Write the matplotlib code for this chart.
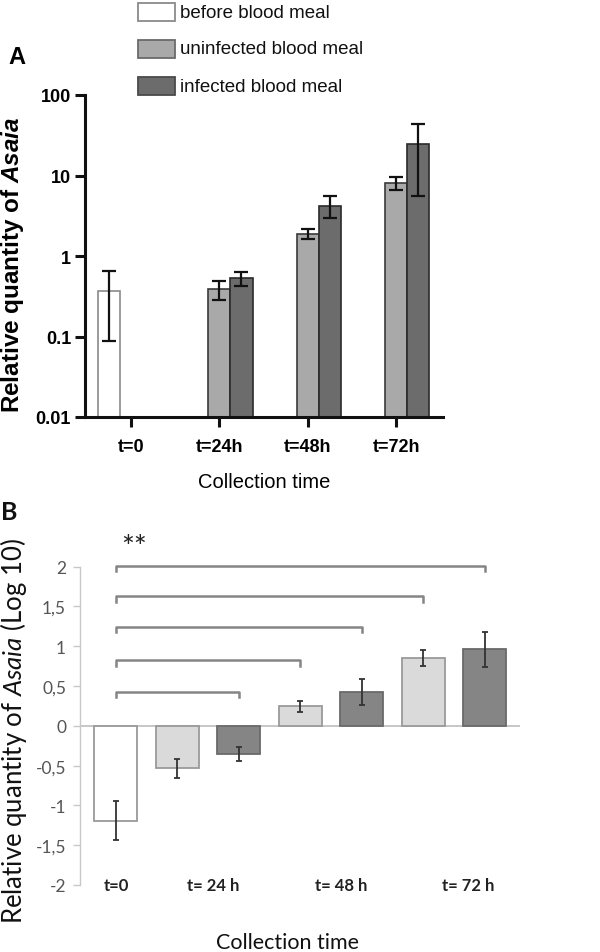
import numpy as np
import matplotlib
matplotlib.use("Agg")
import matplotlib.pyplot as plt
from matplotlib.patches import Rectangle

plt.rcParams['mathtext.fontset'] = 'custom'
plt.rcParams['mathtext.it'] = 'Lato:italic'
plt.rcParams['mathtext.bfit'] = 'Liberation Sans:italic:bold'

NARROW = ['Liberation Sans', 'DejaVu Sans']
CAL = ['Lato', 'DejaVu Sans']

# ---------------- data: panel A ----------------
groups_a = ['t=0', 't=24h', 't=48h', 't=72h']
series_a = ['before blood meal', 'uninfected blood meal', 'infected blood meal']
before_val = [0.367, np.nan, np.nan, np.nan]
before_hi = [0.656, np.nan, np.nan, np.nan]
before_lo = [0.087, np.nan, np.nan, np.nan]
uninf_val = [np.nan, 0.389, 1.876, 8.07]
uninf_hi = [np.nan, 0.49, 2.18, 9.66]
uninf_lo = [np.nan, 0.286, 1.63, 6.6]
inf_val = [np.nan, 0.533, 4.22, 24.4]
inf_hi = [np.nan, 0.638, 5.61, 43.6]
inf_lo = [np.nan, 0.428, 2.97, 5.6]
yticks_a = [0.01, 0.1, 1, 10, 100]
yticklabels_a = ['0.01', '0.1', '1', '10', '100']

# ---------------- data: panel B ----------------
groups_b = ['t=0', 't= 24 h', 't= 48 h', 't= 72 h']
vals_b = [-1.19, -0.535, -0.355, 0.244, 0.427, 0.847, 0.96]
errs_b = [0.25, 0.12, 0.09, 0.07, 0.165, 0.1, 0.225]
kinds_b = ['before', 'uninf', 'inf', 'uninf', 'inf', 'uninf', 'inf']
bracket_end = [2, 3, 4, 5, 6]
bracket_y = [0.43, 0.825, 1.245, 1.63, 2.01]
yticks_b = [-2, -1.5, -1, -0.5, 0, 0.5, 1, 1.5, 2]
yticklabels_b = ['-2', '-1,5', '-1', '-0,5', '0', '0,5', '1', '1,5', '2']

W, H = 600, 953
fig = plt.figure(figsize=(W / 100, H / 100), dpi=100)

# ================= Panel A =================
axA = fig.add_axes([85 / W, 1 - 418 / H, 358 / W, 322 / H])
axA.set_yscale('log')
x = np.arange(len(groups_a))
bw = 0.25
colA = {'before': 'white', 'uninf': '#a9a9a9', 'inf': '#6c6c6c'}
ek = dict(ecolor='#111111', elinewidth=1.6, capsize=5.2, capthick=1.6)

def errs(v, lo, hi):
    v, lo, hi = map(np.array, (v, lo, hi))
    return np.vstack([v - lo, hi - v])

axA.bar(x - bw, before_val, bw, color=colA['before'], edgecolor='#8a8a8a', linewidth=1.2,
        yerr=errs(before_val, before_lo, before_hi), error_kw=ek, zorder=2)
axA.bar(x, uninf_val, bw, color=colA['uninf'], edgecolor='#3a3a3a', linewidth=1.2,
        yerr=errs(uninf_val, uninf_lo, uninf_hi), error_kw=ek, zorder=2)
axA.bar(x + bw, inf_val, bw, color=colA['inf'], edgecolor='#2a2a2a', linewidth=1.2,
        yerr=errs(inf_val, inf_lo, inf_hi), error_kw=ek, zorder=2)

axA.set_ylim(0.01, 100)
axA.set_xlim(-0.52, 3.53)
axA.set_yticks(yticks_a)
axA.set_yticklabels(yticklabels_a)
axA.yaxis.set_minor_locator(matplotlib.ticker.NullLocator())
axA.set_xticks(x)
axA.set_xticklabels(groups_a)
for s in ['top', 'right']:
    axA.spines[s].set_visible(False)
for s in ['left', 'bottom']:
    axA.spines[s].set_linewidth(2.2)
    axA.spines[s].set_color('#111111')
axA.tick_params(axis='both', width=2.2, length=7, color='#111111', pad=3)
for lab in axA.get_yticklabels() + axA.get_xticklabels():
    lab.set_fontfamily(NARROW)
    lab.set_fontweight('bold')
    lab.set_fontsize(13)
axA.tick_params(axis='x', pad=8)
axA.set_xlabel('Collection time', fontfamily=NARROW, fontsize=14.5, labelpad=12)
fig.text(13 / W, 1 - 265 / H, r'Relative quantity of $\mathbfit{Asaia}$', rotation=90,
         ha='center', va='center', fontfamily=NARROW, fontweight='bold', fontsize=17.5)
fig.text(17 / W, 1 - 57 / H, 'A', ha='center', va='center', fontfamily=NARROW,
         fontweight='bold', fontsize=17)

# legend A (drawn manually)
leg_y = [13, 50, 87]
leg_fc = [colA['before'], colA['uninf'], colA['inf']]
leg_ec = ['#8a8a8a', '#6a6a6a', '#4a4a4a']
for ly, lab, fc, ec in zip(leg_y, series_a, leg_fc, leg_ec):
    fig.patches.append(Rectangle((138 / W, 1 - (ly + 9) / H), 37 / W, 18 / H,
                                 transform=fig.transFigure, facecolor=fc, edgecolor=ec,
                                 linewidth=1.3))
    fig.text(180 / W, 1 - ly / H, lab, ha='left', va='center', fontfamily=NARROW,
             fontsize=13.5, color='#111111')

# ================= Panel B =================
axB = fig.add_axes([80 / W, 1 - 886 / H, 440 / W, 318.3 / H])
xb = np.arange(len(vals_b))
colB = {'before': 'white', 'uninf': '#dadada', 'inf': '#858585'}
edgB = {'before': '#9a9a9a', 'uninf': '#9a9a9a', 'inf': '#6a6a6a'}
axB.bar(xb, vals_b, 0.7, color=[colB[k] for k in kinds_b],
        edgecolor=[edgB[k] for k in kinds_b], linewidth=1.3,
        yerr=errs_b, error_kw=dict(ecolor='#333333', elinewidth=1.3, capsize=2.2, capthick=1.3),
        zorder=2)
axB.set_xlim(-0.585, 6.57)
axB.set_ylim(-2, 2)
axB.axhline(0, color='#bdbdbd', linewidth=1.2, zorder=1)
for s in ['top', 'right', 'bottom']:
    axB.spines[s].set_visible(False)
axB.spines['left'].set_color('#c8c8c8')
axB.spines['left'].set_linewidth(1.0)
axB.set_yticks(yticks_b)
axB.set_yticklabels(yticklabels_b)
axB.tick_params(axis='y', color='#c8c8c8', length=5, width=1.0, labelcolor='#555555',
                labelsize=12.5, pad=5)
for lab in axB.get_yticklabels():
    lab.set_fontfamily(CAL)
axB.set_xticks([])
label_pos_b = [0.0, 1.58, 3.66, 5.72]
for p, g in zip(label_pos_b, groups_b):
    axB.text(p, -2, g, ha='center', va='center', fontfamily=CAL, fontweight='bold',
             fontsize=12, color='#222222')

# significance brackets
for e, by in zip(bracket_end, bracket_y):
    axB.plot([0, 0, e, e], [by - 0.07, by, by, by - 0.07], color='#858585',
             linewidth=1.8, clip_on=False, zorder=3)
axB.text(0.3, 2.25, '**', ha='center', va='center', fontsize=22, color='#222222',
         fontfamily=CAL)

fig.text(14 / W, 1 - 731 / H, r'Relative quantity of $\mathit{Asaia}$ (Log 10)', rotation=90,
         ha='center', va='center', fontfamily=CAL, fontsize=18.5, color='#111111')
fig.text(288 / W, 1 - 943 / H, 'Collection time', ha='center', va='center',
         fontfamily=CAL, fontsize=15.5, color='#111111')
fig.text(9 / W, 1 - 512 / H, 'B', ha='center', va='center', fontfamily=CAL,
         fontweight='bold', fontsize=18, color='#111111')

fig.savefig('out.png', dpi=100)
